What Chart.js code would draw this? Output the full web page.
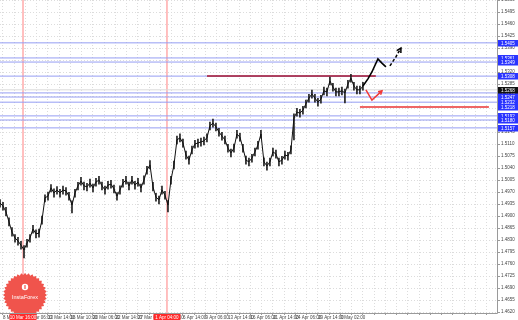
<!DOCTYPE html>
<html>
<head>
<meta charset="utf-8">
<script src="https://cdn.jsdelivr.net/npm/chart.js@4/dist/chart.umd.min.js"></script>
<style>
  body { margin: 0; background: #fff; }
  canvas { display: block; }
</style>
</head>
<body>
<canvas id="chart" width="518" height="320"></canvas>
<script>
// H4 bars, one point per bar group
const closes = [
  1.4938,1.4929,1.4912,1.4883,1.4853,1.4836,1.4827,1.4815,1.4801,1.4821,
  1.4836,1.4862,1.4848,1.4850,1.4888,1.4953,1.4958,1.4982,1.4967,1.4976,
  1.4967,1.4976,1.4973,1.4958,1.4932,1.4967,1.4988,1.5002,1.4988,1.4985,
  1.4996,1.4982,1.4999,1.5005,1.4988,1.4976,1.4990,1.4993,1.4979,1.4958,
  1.4976,1.4996,1.5005,1.4988,1.5005,1.4990,1.4999,1.4982,1.5005,1.5034,
  1.5049,1.4985,1.4955,1.4947,1.4976,1.4961,1.4932,1.5005,1.5049,1.5122,
  1.5128,1.5113,1.5078,1.5063,1.5093,1.5110,1.5113,1.5116,1.5119,1.5128,
  1.5163,1.5171,1.5160,1.5145,1.5133,1.5122,1.5098,1.5084,1.5098,1.5139,
  1.5130,1.5098,1.5063,1.5058,1.5069,1.5087,1.5107,1.5139,1.5058,1.5046,
  1.5058,1.5087,1.5081,1.5058,1.5063,1.5078,1.5075,1.5093,1.5186,1.5203,
  1.5200,1.5209,1.5227,1.5244,1.5256,1.5244,1.5232,1.5241,1.5265,1.5262,
  1.5294,1.5276,1.5262,1.5262,1.5265,1.5259,1.5285,1.5302,1.5279,1.5268,
  1.5268,1.5279
]
const highs = [
  1.4948,1.4940,1.4925,1.4895,1.4866,1.4846,1.4838,1.4826,1.4814,1.4832,
  1.4846,1.4873,1.4860,1.4862,1.4900,1.4962,1.4970,1.4992,1.4979,1.4986,
  1.4978,1.4987,1.4983,1.4969,1.4944,1.4978,1.4998,1.5013,1.4999,1.4995,
  1.5008,1.4993,1.5010,1.5016,1.4999,1.4987,1.5001,1.5004,1.4990,1.4968,
  1.4988,1.5007,1.5016,1.4999,1.5016,1.5001,1.5010,1.4993,1.5017,1.5045,
  1.5062,1.4998,1.4966,1.4958,1.4987,1.4972,1.4945,1.5016,1.5060,1.5133,
  1.5140,1.5124,1.5089,1.5075,1.5104,1.5121,1.5124,1.5127,1.5130,1.5140,
  1.5174,1.5183,1.5171,1.5156,1.5144,1.5133,1.5109,1.5095,1.5110,1.5150,
  1.5141,1.5109,1.5075,1.5069,1.5080,1.5098,1.5118,1.5150,1.5070,1.5057,
  1.5069,1.5098,1.5092,1.5069,1.5074,1.5089,1.5086,1.5105,1.5198,1.5214,
  1.5211,1.5220,1.5238,1.5255,1.5267,1.5255,1.5243,1.5252,1.5276,1.5273,
  1.5305,1.5287,1.5273,1.5273,1.5276,1.5270,1.5296,1.5313,1.5290,1.5279,
  1.5279,1.5290
]
const lows = [
  1.4926,1.4917,1.4900,1.4871,1.4841,1.4824,1.4815,1.4803,1.4778,1.4809,
  1.4824,1.4850,1.4836,1.4838,1.4876,1.4941,1.4946,1.4970,1.4955,1.4964,
  1.4955,1.4964,1.4961,1.4946,1.4909,1.4955,1.4976,1.4990,1.4976,1.4973,
  1.4984,1.4970,1.4987,1.4993,1.4976,1.4964,1.4978,1.4981,1.4967,1.4946,
  1.4964,1.4984,1.4993,1.4976,1.4993,1.4978,1.4987,1.4970,1.4993,1.5022,
  1.5037,1.4973,1.4943,1.4935,1.4964,1.4949,1.4912,1.4993,1.5037,1.5110,
  1.5116,1.5101,1.5066,1.5051,1.5081,1.5098,1.5101,1.5104,1.5107,1.5116,
  1.5151,1.5159,1.5148,1.5133,1.5121,1.5110,1.5086,1.5072,1.5086,1.5127,
  1.5118,1.5086,1.5051,1.5046,1.5057,1.5075,1.5095,1.5127,1.5046,1.5034,
  1.5046,1.5075,1.5069,1.5046,1.5051,1.5066,1.5063,1.5081,1.5122,1.5191,
  1.5188,1.5197,1.5215,1.5232,1.5244,1.5232,1.5220,1.5229,1.5253,1.5250,
  1.5282,1.5264,1.5250,1.5250,1.5253,1.5230,1.5273,1.5290,1.5267,1.5256,
  1.5256,1.5267
]

const yTicks = [
  1.4620,1.4655,1.4690,1.4725,1.4760,1.4795,1.4830,1.4865,1.4900,
  1.4935,1.4970,1.5005,1.5040,1.5075,1.5110,1.5145,1.5180,1.5215,
  1.5250,1.5285,1.5320,1.5355,1.5390,1.5425,1.5460,1.5495,1.5530
]
const xTickLabels = [
  "8 Mar 2015", "10 Mar 06:00", "13 Mar 14:00", "16 Mar 10:00",
  "20 Mar 06:00", "22 Mar 14:00", "27 Mar 06:00", "1 Apr 10:00",
  "6 Apr 14:00", "9 Apr 06:00", "13 Apr 14:00", "16 Apr 06:00",
  "21 Apr 14:00", "24 Apr 06:00", "29 Apr 14:00", "3 May 02:00"
]

// horizontal levels (blue), resistance (dark red) and support (red)
const levels = [1.5405, 1.5361, 1.5349, 1.5308, 1.5259, 1.5247, 1.5232, 1.5192, 1.5180, 1.5157]
const resistance = 1.5308
const resistanceFrom = 69, resistanceTo = 125.3
const support = 1.5218
const supportFrom = 120, supportTo = 163
const bid = 1.5268

// vertical markers (bar index) and their labels
const markers = [7.67, 55.67]
const markerLabels = ["10 Mar 16:00", "1 Apr 04:00"]

// hand-drawn forecast
const solidX = [121, 122.67, 124, 126, 127.33, 128.67]
const solidY = [1.5279, 1.5300, 1.5320, 1.5358, 1.5346, 1.5335]
const dashX = [130, 132, 133.67]
const dashY = [1.5338, 1.5364, 1.5390]
const redX = [122, 124, 127.33]
const redY = [1.5268, 1.5238, 1.5265]

const xMax = 165.7
const pts = (xs, ys) => xs.map((x, i) => ({x: x, y: ys[i]}))
const hline = (v, a, b) => [{x: a, y: v}, {x: b, y: v}]

function arrowHead(ctx, x0, y0, x1, y1, len) {
  const ang = Math.atan2(y1 - y0, x1 - x0)
  ctx.beginPath()
  ctx.moveTo(x1 - len * Math.cos(ang - 0.5), y1 - len * Math.sin(ang - 0.5))
  ctx.lineTo(x1, y1)
  ctx.lineTo(x1 - len * Math.cos(ang + 0.5), y1 - len * Math.sin(ang + 0.5))
  ctx.stroke()
}

const overlay = {
  id: "overlay",
  beforeDraw(c) {
    const ctx = c.ctx
    ctx.save()
    ctx.fillStyle = "#fff"
    ctx.fillRect(0, 0, c.width, c.height)
    ctx.restore()
  },
  afterDraw(c) {
    const {ctx, chartArea: a} = c
    const x = c.scales.x, y = c.scales.y
    ctx.save()

    // frame
    ctx.strokeStyle = "#9a9a9a"
    ctx.lineWidth = 1
    ctx.setLineDash([])
    ctx.beginPath()
    ctx.moveTo(a.right + 0.5, 0)
    ctx.lineTo(a.right + 0.5, a.bottom + 0.5)
    ctx.lineTo(0, a.bottom + 0.5)
    ctx.stroke()

    // arrow heads
    ctx.lineWidth = 1.5
    ctx.strokeStyle = "#000"
    let n = dashX.length - 1
    arrowHead(ctx, x.getPixelForValue(dashX[n - 1]), y.getPixelForValue(dashY[n - 1]),
      x.getPixelForValue(dashX[n]), y.getPixelForValue(dashY[n]), 5)
    ctx.strokeStyle = "#f03838"
    n = redX.length - 1
    arrowHead(ctx, x.getPixelForValue(redX[n - 1]), y.getPixelForValue(redY[n - 1]),
      x.getPixelForValue(redX[n]), y.getPixelForValue(redY[n]), 4)

    // price boxes on the right axis
    ctx.font = "4.5px 'Liberation Sans'"
    ctx.textBaseline = "middle"
    ctx.textAlign = "left"
    levels.concat([support]).forEach(v => {
      const py = Math.round(y.getPixelForValue(v))
      ctx.fillStyle = "#2b35ff"
      ctx.fillRect(a.right + 1, py - 3, 21, 6.5)
      ctx.fillStyle = "#fff"
      ctx.fillText(v.toFixed(4), a.right + 4, py + 0.3)
    })
    const pb = Math.round(y.getPixelForValue(bid))
    ctx.fillStyle = "#111"
    ctx.fillRect(a.right + 1, pb - 3, 21, 6.5)
    ctx.fillStyle = "#fff"
    ctx.fillText(bid.toFixed(4), a.right + 4, pb + 0.3)

    // marker labels on the time axis
    ctx.textAlign = "center"
    markers.forEach((m, i) => {
      const px = x.getPixelForValue(m)
      ctx.fillStyle = "#ff2a2a"
      ctx.fillRect(px - 13.5, a.bottom + 1, 27, 7)
      ctx.fillStyle = "#fff"
      ctx.fillText(markerLabels[i], px, a.bottom + 4.5)
    })

    // InstaForex badge
    ctx.save()
    ctx.beginPath()
    ctx.rect(a.left, a.top, a.right - a.left, a.bottom - a.top)
    ctx.clip()
    const cx = a.left + 25, cy = a.bottom - 18, teeth = 36
    ctx.beginPath()
    for (let k = 0; k <= teeth * 2; k++) {
      const r = k % 2 ? 20 : 22
      const t = Math.PI * k / teeth
      ctx.lineTo(cx + r * Math.cos(t), cy + r * Math.sin(t))
    }
    ctx.closePath()
    ctx.fillStyle = "#f0544c"
    ctx.fill()
    ctx.fillStyle = "#fff"
    ctx.beginPath()
    ctx.arc(cx, cy - 8, 3.2, 0, Math.PI * 2)
    ctx.fill()
    ctx.fillStyle = "#f0544c"
    ctx.fillRect(cx - 0.6, cy - 10, 1.2, 4)
    ctx.fillStyle = "#fff"
    ctx.font = "5.5px 'Liberation Sans'"
    ctx.textAlign = "center"
    ctx.fillText("InstaForex", cx, cy + 2)
    ctx.restore()

    ctx.restore()
  }
}

const datasets = [
  {type: "line", data: pts(redX, redY), borderColor: "#f03838", borderWidth: 1.5},
  {type: "line", data: pts(solidX, solidY), borderColor: "#000", borderWidth: 1.6},
  {type: "line", data: pts(dashX, dashY), borderColor: "#000", borderWidth: 1.5, borderDash: [3, 2]},
  {type: "line", data: pts(closes.map((c, i) => i), closes), borderColor: "#111", borderWidth: 1},
  {type: "bar", data: closes.map((c, i) => ({x: i, y: [lows[i], highs[i]]})),
    backgroundColor: "#222", barThickness: 1},
  {type: "line", data: hline(resistance, resistanceFrom, resistanceTo), borderColor: "#a3122e", borderWidth: 1.5},
  {type: "line", data: hline(support, supportFrom, supportTo), borderColor: "#e83333", borderWidth: 1.5},
  ...levels.map(v => ({type: "line", data: hline(v, 0, xMax), borderColor: "#959df3", borderWidth: 1})),
  {type: "line", data: hline(bid, 0, xMax), borderColor: "#dadada", borderWidth: 1},
  ...markers.map(m => ({type: "line", data: [{x: m, y: 1.40}, {x: m, y: 1.60}], borderColor: "#ff8080", borderWidth: 1}))
]

const chart = new Chart("chart", {
  type: "bar",
  data: {datasets: datasets},
  options: {
    responsive: false,
    animation: false,
    layout: {padding: 0},
    plugins: {
      legend: {display: false},
      tooltip: {enabled: false},
    },
    elements: {
      point: {radius: 0},
      line: {tension: 0},
    },
    scales: {
      x: {
        type: "linear",
        min: 0,
        max: xMax,
        offset: false,
        grid: {color: "#dcdcdc", offset: false, tickLength: 2, tickColor: "#999"},
        border: {display: false, dash: [1, 2]},
        afterBuildTicks(s) {
          const t = []
          for (let k = 0; k < 44; k++) t.push({value: 1 + k * 3.75})
          s.ticks = t
        },
        afterFit(s) {
          s.height = 7
          s.paddingLeft = 0
          s.paddingRight = 0
        },
        ticks: {
          autoSkip: false,
          maxRotation: 0,
          align: "start",
          padding: 0,
          color: "#444",
          font: {size: 4.5, family: "'Liberation Sans'"},
          callback: (v, i) => i % 2 === 0 ? (xTickLabels[i / 2] || "") : "",
        },
      },
      y: {
        position: "right",
        min: 1.46171,
        max: 1.5530,
        grid: {color: "#dcdcdc", tickLength: 3, tickColor: "#999"},
        border: {display: false, dash: [1, 2]},
        afterBuildTicks(s) {
          s.ticks = yTicks.map(v => ({value: v}))
        },
        afterFit(s) {
          s.width = 21
          s.paddingTop = 0
          s.paddingBottom = 0
        },
        ticks: {
          padding: 1,
          color: "#444",
          font: {size: 4.5, family: "'Liberation Sans'"},
          callback: v => v.toFixed(4),
        },
      },
    },
  },
  plugins: [overlay],
})
</script>
</body>
</html>
